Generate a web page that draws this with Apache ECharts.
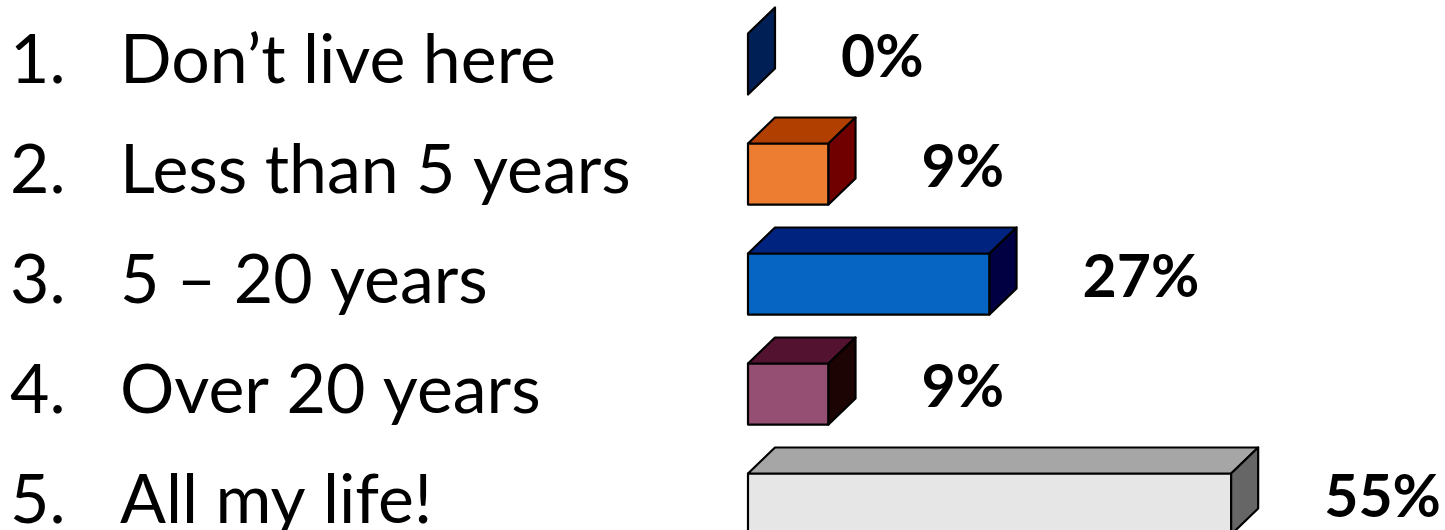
<!DOCTYPE html>
<html>
<head>
<meta charset="utf-8">
<script src="https://cdn.jsdelivr.net/npm/echarts@6/dist/echarts.min.js"></script>
<style>
html,body{margin:0;padding:0;background:#fff;}
#chart{width:1445px;height:530px;}
</style>
</head>
<body>
<div id="chart"></div>
<script>
const numbers = ['1.', '2.', '3.', '4.', '5.'];
const categories = ['Don\u2019t live here', 'Less than 5 years', '5 \u2013 20 years', 'Over 20 years', 'All my life!'];
const values = [0, 9.09, 27.27, 9.09, 54.55];
const valueLabels = ['0%', '9%', '27%', '9%', '55%'];
const frontColors = ['#002060', '#ED7D31', '#0665C2', '#954F72', '#E6E6E6'];
const topColors = ['#002060', '#B03F00', '#002380', '#521230', '#A6A6A6'];
const sideColors = ['#001F54', '#700000', '#000042', '#1C0404', '#666666'];

const chart = echarts.init(document.getElementById('chart'), null, {renderer: 'canvas'});

const DX = 27, DY = -26;

function renderItem(params, api) {
  const idx = api.value(0);
  const val = api.value(1);
  const p0 = api.coord([0, idx]);
  const p1 = api.coord([val, idx]);
  const band = api.size([0, 1])[1];
  const h = band * 0.555;
  const x0 = p0[0], x1 = p1[0];
  const y0 = p0[1] - h / 2, y1 = p0[1] + h / 2;
  const stroke = {stroke: '#000', lineWidth: 2.2, lineJoin: 'round'};
  const children = [];
  if (x1 - x0 > 0.5) {
    children.push({type: 'polygon', shape: {points: [[x0, y0], [x1, y0], [x1, y1], [x0, y1]]},
      style: Object.assign({fill: frontColors[idx]}, stroke)});
    children.push({type: 'polygon', shape: {points: [[x0, y0], [x0 + DX, y0 + DY], [x1 + DX, y0 + DY], [x1, y0]]},
      style: Object.assign({fill: topColors[idx]}, stroke)});
  }
  children.push({type: 'polygon', shape: {points: [[x1, y0], [x1 + DX, y0 + DY], [x1 + DX, y1 + DY], [x1, y1]]},
    style: Object.assign({fill: sideColors[idx]}, stroke)});
  children.push({type: 'text', style: {
    x: x1 + 93, y: p0[1] - 6, text: valueLabels[idx],
    fill: '#000', font: 'bold 59px Lato', align: 'left', verticalAlign: 'middle'
  }});
  return {type: 'group', children: children};
}

const option = {
  animation: false,
  backgroundColor: '#fff',
  grid: {left: 748, top: 9, width: 620, height: 550, containLabel: false, outerBoundsMode: 'none'},
  xAxis: {type: 'value', min: 0, max: 70, show: false},
  yAxis: {
    type: 'category', data: categories, inverse: true,
    axisLine: {show: false}, axisTick: {show: false}, splitLine: {show: false},
    axisLabel: {
      align: 'left', margin: 738,
      formatter: function (v, i) { return '{n|' + numbers[i] + '}{t|' + v + '}'; },
      rich: {
        n: {width: 110, fontSize: 68, fontFamily: 'Lato', color: '#000', padding: [0, 0, 6, 0]},
        t: {fontSize: 68, fontFamily: 'Lato', color: '#000', padding: [0, 0, 6, 0]}
      }
    }
  },
  series: [{
    type: 'custom',
    renderItem: renderItem,
    encode: {x: 1, y: 0},
    data: values.map(function (v, i) { return [i, v]; }),
    clip: false
  }]
};
chart.setOption(option);
</script>
</body>
</html>
